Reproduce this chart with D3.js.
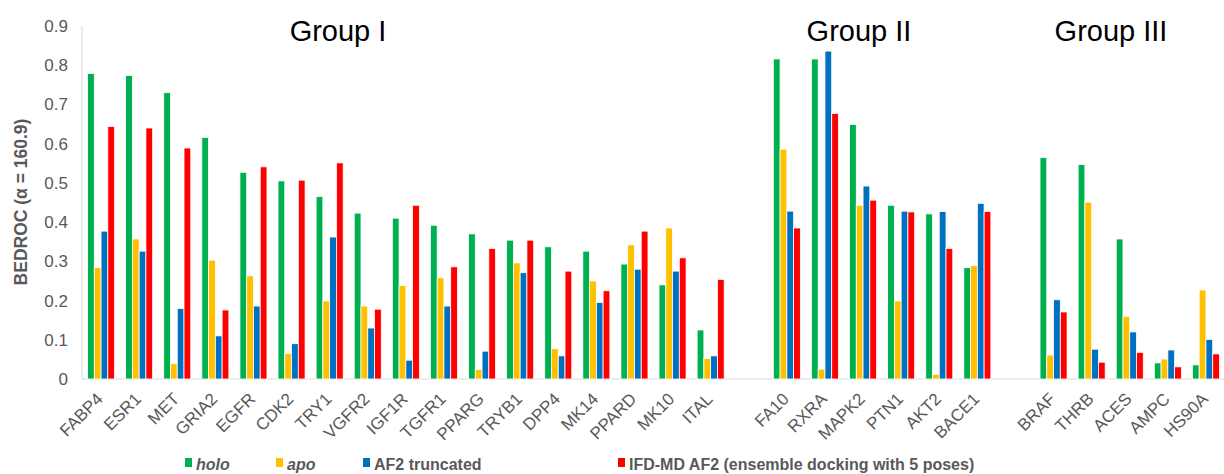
<!DOCTYPE html>
<html lang="en">
<head>
<meta charset="UTF-8">
<script src="https://d3js.org/d3.v7.min.js"></script>
<style>
  body { margin: 0; background: #fff; }
  svg text { font-family: Arial, 'Liberation Sans', sans-serif; }
</style>
</head>
<body>
<div id="chart"></div>
<script>
// targets in each group
var groupI = ["FABP4", "ESR1", "MET", "GRIA2", "EGFR", "CDK2", "TRY1", "VGFR2", "IGF1R",
  "TGFR1", "PPARG", "TRYB1", "DPP4", "MK14", "PPARD", "MK10", "ITAL"];
var groupII = ["FA10", "RXRA", "MAPK2", "PTN1", "AKT2", "BACE1"];
var groupIII = ["BRAF", "THRB", "ACES", "AMPC", "HS90A"];
var groupNames = ["Group I", "Group II", "Group III"];

var seriesNames = ["holo", "apo", "AF2 truncated", "IFD-MD AF2 (ensemble docking with 5 poses)"];

// BEDROC values, same order as groupI + groupII + groupIII
var holo = [0.779, 0.774, 0.730, 0.616, 0.527, 0.505, 0.465, 0.423, 0.410,
  0.392, 0.370, 0.354, 0.337, 0.326, 0.293, 0.240, 0.125,
  0.816, 0.816, 0.649, 0.443, 0.421, 0.284,
  0.565, 0.547, 0.357, 0.041, 0.036];
var apo = [0.284, 0.357, 0.039, 0.303, 0.263, 0.065, 0.199, 0.186, 0.238,
  0.258, 0.024, 0.296, 0.077, 0.250, 0.342, 0.385, 0.052,
  0.586, 0.025, 0.443, 0.199, 0.012, 0.289,
  0.061, 0.451, 0.160, 0.051, 0.227];
var af2 = [0.377, 0.326, 0.180, 0.110, 0.186, 0.090, 0.362, 0.130, 0.048,
  0.186, 0.071, 0.271, 0.059, 0.195, 0.280, 0.275, 0.059,
  0.428, 0.836, 0.492, 0.428, 0.427, 0.448,
  0.202, 0.076, 0.120, 0.074, 0.101];
var ifdmd = [0.644, 0.640, 0.589, 0.176, 0.541, 0.507, 0.551, 0.178, 0.443,
  0.286, 0.333, 0.354, 0.275, 0.225, 0.377, 0.309, 0.254,
  0.385, 0.677, 0.456, 0.426, 0.333, 0.427,
  0.171, 0.043, 0.068, 0.031, 0.064];

var yTicks = [0, 0.1, 0.2, 0.3, 0.4, 0.5, 0.6, 0.7, 0.8, 0.9];
var colors = ["#00B050", "#FFC000", "#0070C0", "#FF0000"];

var targets = groupI.concat(groupII, groupIII);
var allSeries = [holo, apo, af2, ifdmd];
var slots = groupI.concat(["gap1"], groupII, ["gap2"], groupIII);

var width = 1224, height = 474;
var svg = d3.select("#chart").append("svg")
  .attr("width", width)
  .attr("height", height);

var x = d3.scaleBand()
  .domain(slots)
  .range([82, 1225])
  .paddingInner(0.29)
  .paddingOuter(0.145);

var xs = d3.scaleBand()
  .domain(seriesNames)
  .range([0, x.bandwidth()]);

var y = d3.scaleLinear()
  .domain([0, 0.9])
  .range([379, 26]);

// axis lines
svg.append("line")
  .attr("x1", 82).attr("x2", 82)
  .attr("y1", y(0.9)).attr("y2", y(0))
  .attr("stroke", "#d9d9d9");
svg.append("line")
  .attr("x1", 82).attr("x2", width)
  .attr("y1", y(0)).attr("y2", y(0))
  .attr("stroke", "#d9d9d9");

// y tick labels
var y_axis = d3.axisLeft(y)
  .tickValues(yTicks)
  .tickFormat(function (d) { return d === 0 ? "0" : d3.format(".1f")(d); })
  .tickSize(0)
  .tickPadding(14);
var gy = svg.append("g")
  .attr("transform", "translate(82,0)")
  .call(y_axis);
gy.select(".domain").remove();
gy.selectAll("text")
  .attr("fill", "#595959")
  .style("font-size", "17px");

svg.append("text")
  .attr("transform", "translate(27," + 202 + ") rotate(-90)")
  .attr("text-anchor", "middle")
  .attr("fill", "#595959")
  .style("font-size", "17.5px")
  .style("font-weight", "bold")
  .text("BEDROC (\u03b1 = 160.9)");

// bars
svg.append("g")
  .selectAll("g")
  .data(targets)
  .enter()
  .append("g")
  .attr("transform", function (d) { return "translate(" + x(d) + ",0)"; })
  .selectAll("rect")
  .data(function (d, i) {
    return seriesNames.map(function (s, j) { return { s: s, j: j, v: allSeries[j][i] }; });
  })
  .enter()
  .append("rect")
  .attr("x", function (d) { return xs(d.s); })
  .attr("y", function (d) { return y(d.v); })
  .attr("width", xs.bandwidth())
  .attr("height", function (d) { return y(0) - y(d.v); })
  .attr("fill", function (d) { return colors[d.j]; })
  .attr("stroke", "#fff")
  .attr("stroke-width", 0.8);

// x labels
svg.append("g")
  .selectAll("text")
  .data(targets)
  .enter()
  .append("text")
  .attr("transform", function (d) {
    return "translate(" + (x(d) + x.bandwidth() / 2 + 3) + ",400) rotate(-45)";
  })
  .attr("text-anchor", "end")
  .attr("fill", "#595959")
  .style("font-size", "17px")
  .text(function (d) { return d; });

// group titles
var groupCenters = [338, 859, 1111];
svg.append("g")
  .selectAll("text")
  .data(groupNames)
  .enter()
  .append("text")
  .attr("x", function (d, i) { return groupCenters[i]; })
  .attr("y", 41)
  .attr("text-anchor", "middle")
  .attr("fill", "#000")
  .style("font-size", "29px")
  .text(function (d) { return d; });

// legend
var legendX = [185, 276, 363, 618];
var legend = svg.append("g")
  .selectAll("g")
  .data(seriesNames)
  .enter()
  .append("g")
  .attr("transform", function (d, i) { return "translate(" + legendX[i] + ",0)"; });
legend.append("rect")
  .attr("x", 0).attr("y", 458)
  .attr("width", 7).attr("height", 9)
  .attr("fill", function (d, i) { return colors[i]; });
legend.append("text")
  .attr("x", 11)
  .attr("y", 470)
  .attr("fill", "#595959")
  .style("font-size", "16px")
  .style("font-weight", "bold")
  .style("font-style", function (d, i) { return i < 2 ? "italic" : "normal"; })
  .text(function (d) { return d; });
</script>
</body>
</html>
